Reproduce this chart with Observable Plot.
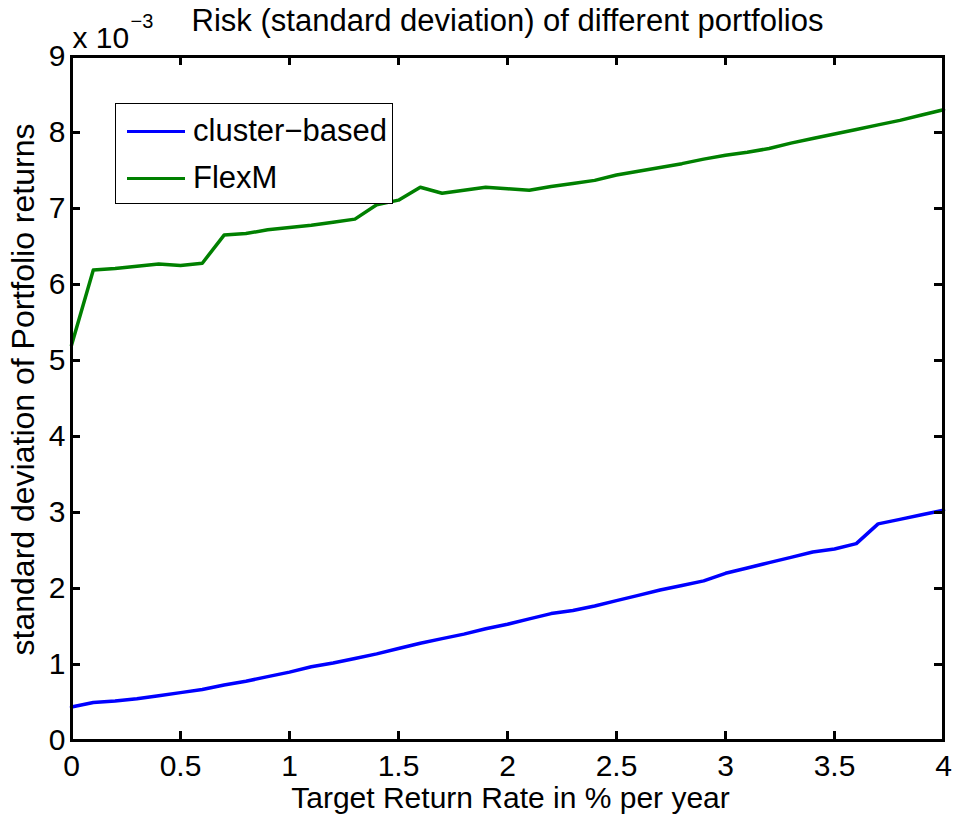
<!DOCTYPE html>
<html>
<head>
<meta charset="utf-8">
<script src="https://cdn.jsdelivr.net/npm/d3@7"></script>
<script src="https://cdn.jsdelivr.net/npm/@observablehq/plot@0.6"></script>
<style>
  body { margin: 0; background: #fff; font-family: "Liberation Sans", Arial, sans-serif; }
  #wrap { position: relative; width: 954px; height: 816px; }
  #legend { position: absolute; left: 115px; top: 103px; width: 278px; height: 101px; border: 1.5px solid #000;
            background: #fff; box-sizing: border-box; }
  .row { position: absolute; left: 0; height: 30px; display: flex; align-items: center; font-size: 31px; color: #000; white-space: nowrap; }
  .sw { display: inline-block; width: 58px; height: 0; border-top: 3.5px solid; margin-left: 11px; margin-right: 8px; }
</style>
</head>
<body>
<div id="wrap"><div id="chart"></div>
  <div id="legend"></div>
</div>
<script>
// ---- data (values in units of 10^-3) ----
const xValues = [0.0, 0.1, 0.2, 0.3, 0.4, 0.5, 0.6, 0.7, 0.8, 0.9,
                 1.0, 1.1, 1.2, 1.3, 1.4, 1.5, 1.6, 1.7, 1.8, 1.9,
                 2.0, 2.1, 2.2, 2.3, 2.4, 2.5, 2.6, 2.7, 2.8, 2.9,
                 3.0, 3.1, 3.2, 3.3, 3.4, 3.5, 3.6, 3.7, 3.8, 3.9, 4.0];
const clusterBased = [0.44, 0.50, 0.52, 0.55, 0.59, 0.63, 0.67, 0.73, 0.78, 0.84,
                      0.90, 0.97, 1.02, 1.08, 1.14, 1.21, 1.28, 1.34, 1.40, 1.47,
                      1.53, 1.60, 1.67, 1.71, 1.77, 1.84, 1.91, 1.98, 2.04, 2.10,
                      2.20, 2.27, 2.34, 2.41, 2.48, 2.52, 2.59, 2.85, 2.91, 2.97, 3.03];
const flexM = [5.20, 6.19, 6.21, 6.24, 6.27, 6.25, 6.28, 6.65, 6.67, 6.72,
               6.75, 6.78, 6.82, 6.86, 7.05, 7.11, 7.28, 7.20, 7.24, 7.28,
               7.26, 7.24, 7.29, 7.33, 7.37, 7.44, 7.49, 7.54, 7.59, 7.65,
               7.70, 7.74, 7.79, 7.86, 7.92, 7.98, 8.04, 8.10, 8.16, 8.23, 8.30];
const seriesNames = ["cluster\u2212based", "FlexM"];
const seriesColors = ["#0000ff", "#008000"];
const xTicks = [0, 0.5, 1, 1.5, 2, 2.5, 3, 3.5, 4];
const xTickLabels = ["0", "0.5", "1", "1.5", "2", "2.5", "3", "3.5", "4"];
const yTicks = [0, 1, 2, 3, 4, 5, 6, 7, 8, 9];
const title = "Risk (standard deviation) of different portfolios";
const xLabel = "Target Return Rate in % per year";
const yLabel = "standard deviation of Portfolio returns";
const expBase = "x 10";
const expPower = "\u22123";

// ---- layout ----
const W = 954, H = 816, mL = 71, mR = 11, mT = 56, mB = 76;
const plotW = W - mL - mR, plotH = H - mT - mB;
const tickLen = 9;
const font = '"Liberation Sans", Arial, sans-serif';

const chart = Plot.plot({
  width: W, height: H,
  marginLeft: mL, marginRight: mR, marginTop: mT, marginBottom: mB,
  style: { fontFamily: font, fontSize: "30px", color: "#000", background: "#fff", overflow: "visible" },
  x: { domain: [0, 4] },
  y: { domain: [0, 9] },
  marks: [
    Plot.line(xValues, { x: d => d, y: (d, i) => clusterBased[i], stroke: seriesColors[0], strokeWidth: 3.5 }),
    Plot.line(xValues, { x: d => d, y: (d, i) => flexM[i], stroke: seriesColors[1], strokeWidth: 3.5 }),
    Plot.tickX(xTicks, { x: d => d, insetTop: plotH - tickLen, stroke: "#000", strokeWidth: 3 }),
    Plot.tickX(xTicks, { x: d => d, insetBottom: plotH - tickLen, stroke: "#000", strokeWidth: 3 }),
    Plot.tickY(yTicks, { y: d => d, insetRight: plotW - tickLen, stroke: "#000", strokeWidth: 3 }),
    Plot.tickY(yTicks, { y: d => d, insetLeft: plotW - tickLen, stroke: "#000", strokeWidth: 3 }),
    Plot.axisX(xTicks, { tickSize: 0, tickPadding: 14, tickFormat: (d, i) => xTickLabels[i], label: null, fontSize: 30 }),
    Plot.axisY(yTicks, { tickSize: 0, tickPadding: 6, tickFormat: d => String(d), label: null, fontSize: 30 }),
    Plot.frame({ stroke: "#000", strokeWidth: 3 }),
    Plot.text([title], { text: d => d, frameAnchor: "top", textAnchor: "middle", dx: 0, dy: -35, lineAnchor: "middle", fontSize: 31 }),
    Plot.text([xLabel], { text: d => d, frameAnchor: "bottom", textAnchor: "middle", dx: 3, dy: 58, lineAnchor: "middle", fontSize: 30 }),
    Plot.text([yLabel], { text: d => d, frameAnchor: "left", textAnchor: "middle", rotate: -90, dx: -48, dy: -9, lineAnchor: "middle", fontSize: 32 }),
    Plot.text([expBase], { text: d => d, frameAnchor: "top-left", textAnchor: "start", dx: 1, dy: -18, lineAnchor: "middle", fontSize: 30 }),
    Plot.text([expPower], { text: d => d, frameAnchor: "top-left", textAnchor: "start", dx: 59, dy: -35, lineAnchor: "middle", fontSize: 20 })
  ]
});
document.getElementById("chart").appendChild(chart);

// ---- legend ----
const legend = document.getElementById("legend");
const rowTops = [12, 59];
seriesNames.forEach((name, i) => {
  const row = document.createElement("div");
  row.className = "row";
  row.style.top = rowTops[i] + "px";
  const sw = document.createElement("span");
  sw.className = "sw";
  sw.style.borderTopColor = seriesColors[i];
  const t = document.createElement("span");
  t.textContent = name;
  row.appendChild(sw);
  row.appendChild(t);
  legend.appendChild(row);
});
</script>
</body>
</html>
